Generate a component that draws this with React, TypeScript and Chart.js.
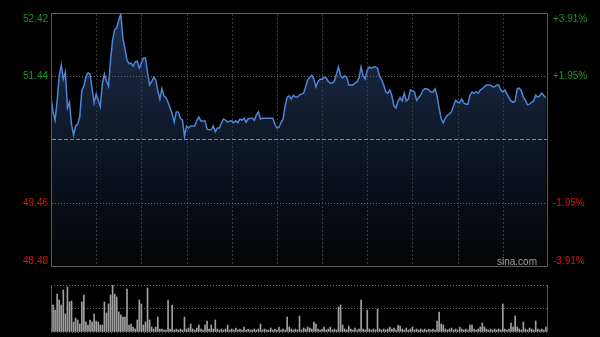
import React, { useEffect, useRef } from 'react';
import { Chart, registerables } from 'chart.js';

Chart.register(...registerables);

const prevClose = 50.45;
const priceTicks = [48.48, 49.46, 50.45, 51.44, 52.42];
const pctLabels = ['-3.91%', '-1.95%', '', '+1.95%', '+3.91%'];
const gridMinutes = [22, 44, 66, 88, 110, 132, 154, 176, 198, 220];
const watermark = 'sina.com';

const prices = [
  51.10, 50.88, 50.75, 51.06, 51.44, 51.61, 51.39, 51.50, 50.94, 51.03,
  50.68, 50.52, 50.66, 50.69, 50.80, 51.22, 51.28, 51.42, 51.49, 51.47,
  51.24, 51.02, 51.16, 51.06, 50.96, 51.31, 51.47, 51.36, 51.28, 51.69,
  52.00, 52.16, 52.19, 52.31, 52.40, 52.03, 51.86, 51.69, 51.63, 51.64,
  51.59, 51.66, 51.67, 51.56, 51.64, 51.72, 51.72, 51.50, 51.30, 51.35,
  51.42, 51.38, 51.21, 51.08, 51.24, 51.13, 51.10, 51.03, 50.94, 50.85,
  50.72, 50.88, 50.88, 50.78, 50.75, 50.50, 50.66, 50.63, 50.66, 50.66,
  50.66, 50.75, 50.80, 50.74, 50.74, 50.74, 50.61, 50.60, 50.60, 50.66,
  50.57, 50.63, 50.63, 50.71, 50.77, 50.75, 50.72, 50.74, 50.74, 50.71,
  50.74, 50.71, 50.77, 50.75, 50.78, 50.72, 50.77, 50.78, 50.78, 50.75,
  50.83, 50.88, 50.77, 50.78, 50.78, 50.78, 50.78, 50.78, 50.78, 50.69,
  50.63, 50.64, 50.71, 50.77, 50.97, 51.11, 51.13, 51.08, 51.14, 51.11,
  51.11, 51.14, 51.16, 51.17, 51.27, 51.38, 51.42, 51.45, 51.39, 51.27,
  51.35, 51.39, 51.39, 51.42, 51.41, 51.35, 51.33, 51.33, 51.36, 51.47,
  51.58, 51.44, 51.41, 51.44, 51.42, 51.30, 51.30, 51.30, 51.33, 51.35,
  51.41, 51.58, 51.44, 51.39, 51.53, 51.58, 51.56, 51.58, 51.58, 51.56,
  51.44, 51.38, 51.30, 51.19, 51.17, 51.22, 51.13, 50.97, 50.94, 51.05,
  51.10, 51.05, 51.17, 51.05, 51.08, 51.22, 51.21, 51.19, 51.06, 51.10,
  51.14, 51.21, 51.24, 51.24, 51.22, 51.19, 51.19, 51.24, 51.13, 50.94,
  50.77, 50.71, 50.78, 50.83, 50.85, 50.88, 50.97, 51.06, 51.03, 51.02,
  51.08, 51.02, 51.00, 51.00, 51.14, 51.19, 51.17, 51.19, 51.17, 51.22,
  51.24, 51.27, 51.30, 51.30, 51.30, 51.27, 51.27, 51.30, 51.30, 51.22,
  51.19, 51.22, 51.16, 51.10, 51.05, 51.03, 51.05, 51.24, 51.25, 51.21,
  51.11, 51.06, 50.99, 51.00, 51.03, 51.05, 51.14, 51.11, 51.13, 51.17,
  51.13, 51.10,
];

const volumes = [
  27, 27, 22, 38, 32, 27, 42, 18, 45, 30,
  31, 10, 14, 12, 8, 30, 37, 10, 7, 12,
  10, 18, 11, 10, 7, 7, 30, 19, 28, 37,
  47, 38, 35, 20, 17, 15, 15, 43, 7, 8,
  5, 3, 12, 32, 28, 7, 10, 44, 12, 5,
  3, 5, 15, 3, 3, 2, 2, 32, 3, 27,
  2, 3, 2, 3, 2, 15, 3, 4, 8, 3,
  2, 4, 7, 3, 2, 7, 11, 3, 7, 3,
  12, 3, 2, 3, 2, 3, 7, 2, 3, 2,
  4, 2, 3, 2, 5, 2, 3, 2, 2, 3,
  2, 3, 8, 2, 3, 2, 2, 4, 2, 3,
  2, 5, 2, 3, 2, 15, 5, 3, 2, 3,
  2, 16, 2, 4, 3, 5, 4, 3, 10, 8,
  3, 2, 3, 5, 2, 3, 5, 2, 3, 2,
  25, 27, 7, 3, 2, 6, 3, 2, 4, 2,
  3, 32, 3, 2, 22, 3, 2, 3, 2, 23,
  3, 2, 3, 2, 3, 5, 3, 4, 2, 7,
  6, 3, 2, 4, 2, 3, 5, 2, 3, 2,
  3, 2, 3, 2, 3, 2, 3, 2, 11, 20,
  8, 7, 3, 2, 3, 4, 2, 3, 2, 5,
  3, 2, 3, 2, 7, 7, 3, 2, 3, 5,
  9, 5, 3, 2, 3, 2, 3, 2, 3, 2,
  28, 3, 2, 3, 9, 5, 16, 5, 3, 2,
  10, 3, 2, 4, 3, 2, 11, 3, 2, 3,
  2, 5,
];
const volumeMax = 47;

const FONT = '10px "Liberation Sans", Arial, sans-serif';
const GREEN = '#159a15';
const RED = '#d01a0c';
const BORDER = '#5c5c5c';

function hLine(ctx: any, ca: any, py: number, color: string, dash: number[]) {
  const yy = Math.round(py) + 0.5;
  ctx.strokeStyle = color;
  ctx.setLineDash(dash);
  ctx.beginPath();
  ctx.moveTo(ca.left + 1, yy);
  ctx.lineTo(ca.right - 1, yy);
  ctx.stroke();
}

const mainPlugin = {
  id: 'mainDecor',
  beforeDatasetDraw(chart: any) {
    const { ctx, chartArea: ca, scales } = chart;
    const x = scales.x;
    const y = scales.y;
    ctx.save();
    ctx.lineWidth = 1;
    // vertical minute grid
    ctx.strokeStyle = '#3a3a3a';
    ctx.setLineDash([2, 2]);
    gridMinutes.forEach((m) => {
      const px = Math.round(x.getPixelForValue(m)) + 0.5;
      ctx.beginPath();
      ctx.moveTo(px, ca.top + 1);
      ctx.lineTo(px, ca.bottom);
      ctx.stroke();
    });
    // price grid
    hLine(ctx, ca, y.getPixelForValue(priceTicks[1]), '#686868', [1, 2]);
    hLine(ctx, ca, y.getPixelForValue(priceTicks[3]), '#686868', [1, 2]);
    hLine(ctx, ca, y.getPixelForValue(prevClose), '#80868e', [4, 2]);
    ctx.restore();
  },
  afterDraw(chart: any) {
    const { ctx, chartArea: ca, scales } = chart;
    const y = scales.y;
    ctx.save();
    ctx.strokeStyle = BORDER;
    ctx.lineWidth = 1;
    ctx.strokeRect(ca.left + 0.5, ca.top + 0.5, ca.right - ca.left - 1, ca.bottom - ca.top);
    ctx.font = FONT;
    priceTicks.forEach((v, i) => {
      if (v === prevClose) return;
      const py = y.getPixelForValue(v);
      ctx.fillStyle = v > prevClose ? GREEN : RED;
      if (i === priceTicks.length - 1) {
        ctx.textBaseline = 'top';
      } else if (i === 0) {
        ctx.textBaseline = 'bottom';
      } else {
        ctx.textBaseline = 'middle';
      }
      const ty = i === priceTicks.length - 1 ? py + 1 : py;
      ctx.textAlign = 'right';
      ctx.fillText(v.toFixed(2), ca.left - 3, ty);
      ctx.textAlign = 'left';
      ctx.fillText(pctLabels[i], ca.right + 5, ty);
    });
    ctx.fillStyle = '#a0a0a0';
    ctx.textAlign = 'right';
    ctx.textBaseline = 'alphabetic';
    ctx.fillText(watermark, ca.right - 11, ca.bottom - 1);
    ctx.restore();
  },
};

const volPlugin = {
  id: 'volDecor',
  afterDraw(chart: any) {
    const { ctx, chartArea: ca } = chart;
    ctx.save();
    ctx.strokeStyle = BORDER;
    ctx.lineWidth = 1;
    ctx.beginPath();
    ctx.moveTo(ca.left + 0.5, ca.top);
    ctx.lineTo(ca.left + 0.5, ca.bottom);
    ctx.moveTo(ca.right - 0.5, ca.top);
    ctx.lineTo(ca.right - 0.5, ca.bottom);
    ctx.stroke();
    ctx.restore();
  },
};

export default function App() {
  const mainRef = useRef<HTMLCanvasElement>(null);
  const volRef = useRef<HTMLCanvasElement>(null);

  useEffect(() => {
    const main = new Chart(mainRef.current as HTMLCanvasElement, {
      type: 'line',
      data: {
        datasets: [
          {
            data: prices.map((p, i) => ({ x: i, y: p })),
            borderColor: '#4d85d8',
            borderWidth: 1.5,
            pointRadius: 0,
            tension: 0,
            fill: 'start',
            backgroundColor: (c: any) => {
              const ch = c.chart;
              const ca = ch.chartArea;
              if (!ca) return 'rgba(0,0,0,0)';
              const g = ch.ctx.createLinearGradient(0, ca.top, 0, ca.bottom);
              g.addColorStop(0, '#1d2e4c');
              g.addColorStop(0.5, '#0f1828');
              g.addColorStop(1, '#030405');
              return g;
            },
          },
        ],
      },
      options: {
        responsive: false,
        animation: false,
        devicePixelRatio: 1,
        layout: { padding: { left: 51, top: 13, right: 52, bottom: 71 } },
        plugins: { legend: { display: false }, tooltip: { enabled: false } },
        scales: {
          x: { type: 'linear', min: 0, max: 242, display: false },
          y: { min: priceTicks[0], max: priceTicks[priceTicks.length - 1], display: false },
        },
      } as any,
      plugins: [mainPlugin],
    });

    const vol = new Chart(volRef.current as HTMLCanvasElement, {
      type: 'bar',
      data: {
        datasets: [
          {
            data: volumes.map((v, i) => ({ x: i, y: v })),
            backgroundColor: '#a0a0a0',
            barThickness: 1,
            borderWidth: 0,
          },
        ],
      },
      options: {
        responsive: false,
        animation: false,
        devicePixelRatio: 1,
        layout: { padding: { left: 51, top: 285, right: 52, bottom: 5 } },
        plugins: { legend: { display: false }, tooltip: { enabled: false } },
        scales: {
          x: { type: 'linear', min: 0, max: 242, offset: false, display: false },
          y: {
            min: 0,
            max: volumeMax,
            afterBuildTicks: (s: any) => {
              s.ticks = [0, volumeMax / 2, volumeMax].map((v) => ({ value: v }));
            },
            ticks: { display: false },
            grid: {
              drawTicks: false,
              color: (c: any) => (c.tick && c.tick.value === 0 ? BORDER : '#6a6a6a'),
            },
            border: { display: false, dash: [1, 2] },
          },
        },
      } as any,
      plugins: [volPlugin],
    });

    return () => {
      main.destroy();
      vol.destroy();
    };
  }, []);

  return (
    <div style={{ position: 'fixed', left: 0, top: 0, width: 600, height: 337, background: '#000' }}>
      <canvas ref={mainRef} width={600} height={337} style={{ position: 'absolute', left: 0, top: 0 }} />
      <canvas ref={volRef} width={600} height={337} style={{ position: 'absolute', left: 0, top: 0 }} />
    </div>
  );
}
